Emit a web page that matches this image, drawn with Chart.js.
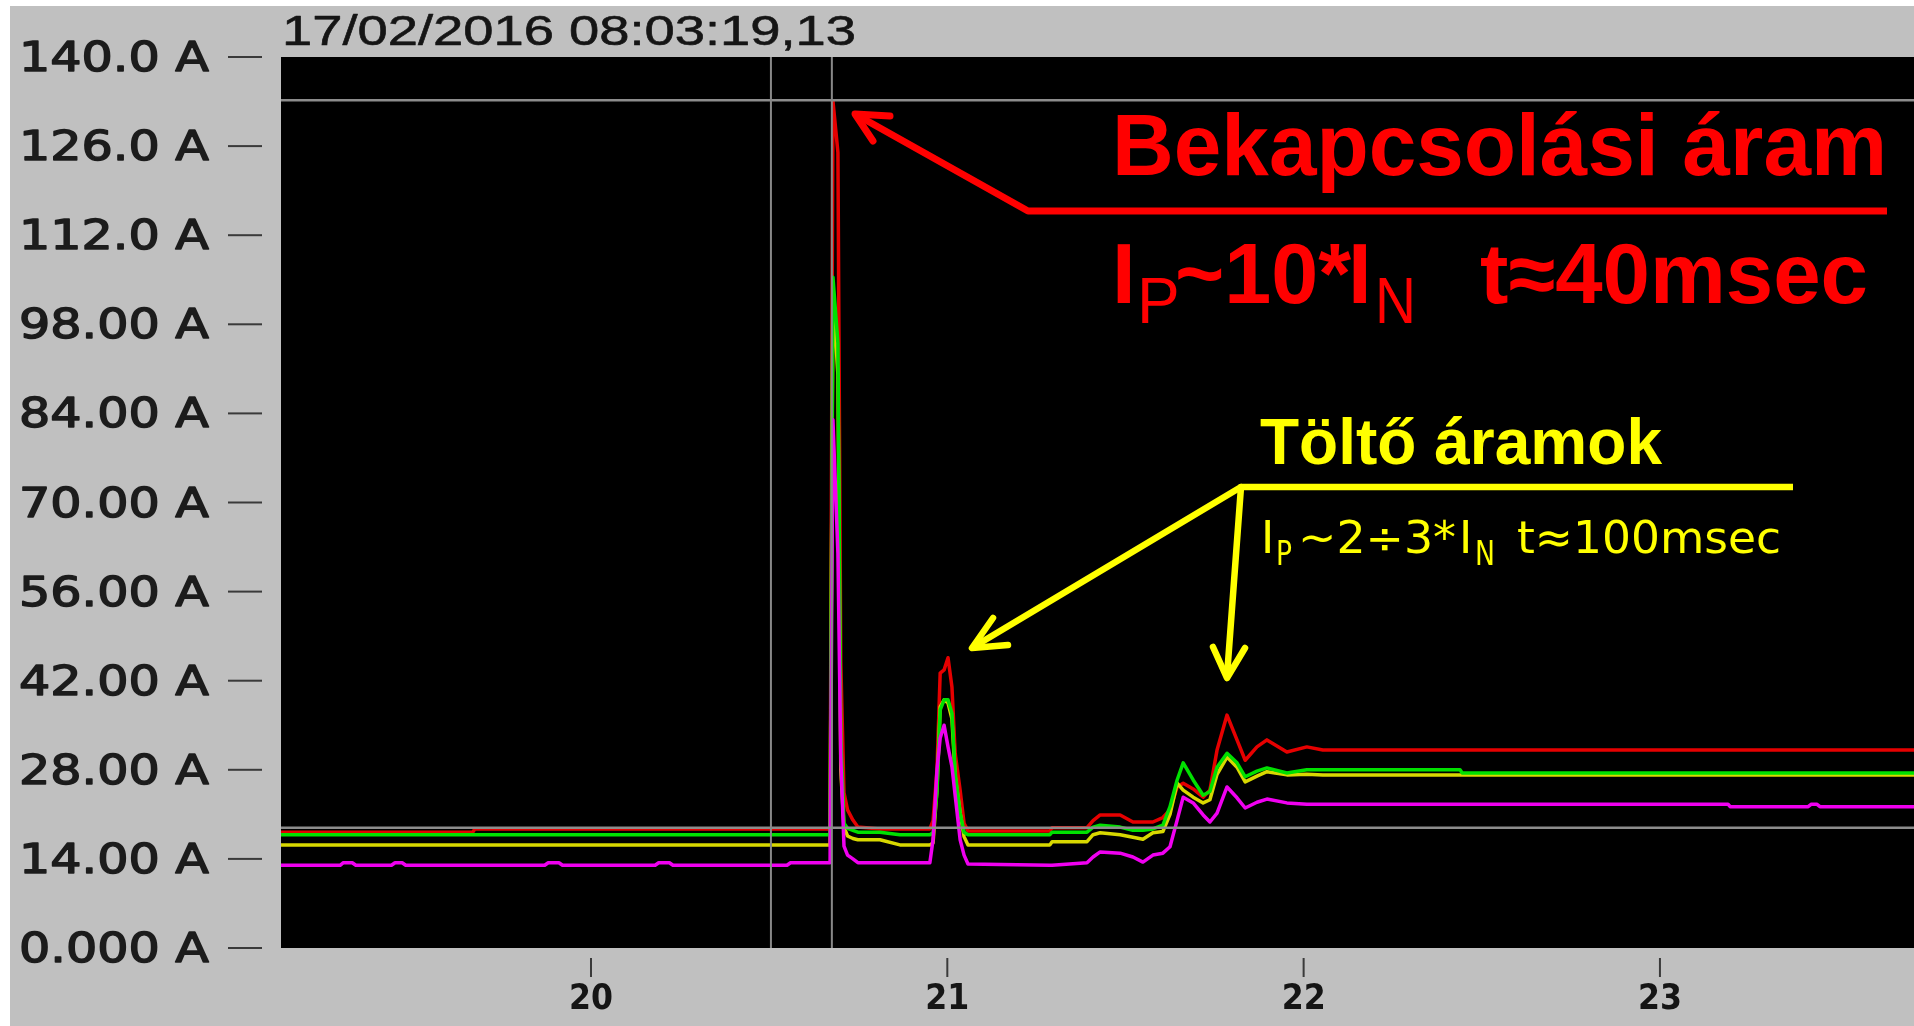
<!DOCTYPE html>
<html lang="hu">
<head>
<meta charset="utf-8">
<title>Bekapcsolási áram</title>
<script src="https://cdn.jsdelivr.net/npm/chart.js@4.4.0/dist/chart.umd.min.js"></script>
<style>
  html, body { margin: 0; padding: 0; background: #ffffff; overflow: hidden; }
  canvas { display: block; }
</style>
</head>
<body>
<canvas id="graficoCorriente" width="1914" height="1026"></canvas>
<script>
const tiempos = [
    19.130, 19.296, 19.305, 19.330, 19.340, 19.440, 19.450, 19.470, 19.480, 19.668,
    19.674, 19.870, 19.880, 19.910, 19.920, 20.180, 20.190, 20.220, 20.230, 20.550,
    20.560, 20.671, 20.679, 20.693, 20.701, 20.710, 20.720, 20.735, 20.749, 20.811,
    20.867, 20.951, 20.960, 20.971, 20.980, 20.991, 21.002, 21.013, 21.022, 21.036,
    21.047, 21.058, 21.288, 21.294, 21.392, 21.409, 21.429, 21.485, 21.521, 21.549,
    21.577, 21.605, 21.625, 21.645, 21.662, 21.690, 21.718, 21.737, 21.757, 21.785,
    21.813, 21.836, 21.869, 21.897, 21.953, 22.009, 22.054, 22.439, 22.445, 23.191,
    23.197, 23.416, 23.425, 23.440, 23.449, 23.713
];
const corrienteRoja = [
    18.2, 18.2, 18.2, 18.2, 18.2, 18.2, 18.2, 18.2, 18.2, 18.2,
    18.7, 18.7, 18.7, 18.7, 18.7, 18.7, 18.7, 18.7, 18.7, 18.7,
    18.7, 18.7, 133.1, 125.0, 45.0, 24.4, 21.7, 20.1, 19.0, 18.7,
    18.7, 18.7, 20.0, 28.0, 43.2, 43.7, 45.6, 41.0, 30.6, 24.8,
    19.6, 18.4, 18.4, 18.9, 18.9, 20.0, 20.9, 20.9, 19.8, 19.8,
    19.8, 20.5, 21.7, 25.3, 25.9, 25.0, 23.7, 24.8, 31.1, 36.6,
    32.7, 29.5, 31.6, 32.7, 30.8, 31.6, 31.1, 31.1, 31.1, 31.1,
    31.1, 31.1, 31.1, 31.1, 31.1, 31.1
];
const corrienteVerde = [
    17.8, 17.8, 17.8, 17.8, 17.8, 17.8, 17.8, 17.8, 17.8, 17.8,
    17.8, 17.8, 17.8, 17.8, 17.8, 17.8, 17.8, 17.8, 17.8, 17.8,
    17.8, 17.8, 105.4, 95.0, 33.0, 19.6, 18.8, 18.5, 18.2, 18.2,
    17.8, 17.8, 18.1, 24.4, 37.4, 39.0, 39.0, 36.9, 27.5, 21.2,
    18.2, 17.8, 17.8, 18.2, 18.2, 19.0, 19.3, 19.0, 18.5, 18.5,
    18.7, 19.3, 22.2, 26.4, 29.1, 26.4, 24.0, 24.6, 28.4, 30.6,
    29.1, 26.9, 27.8, 28.3, 27.5, 28.0, 28.0, 28.0, 27.5, 27.5,
    27.5, 27.5, 27.5, 27.5, 27.5, 27.5
];
const corrienteAmarilla = [
    16.2, 16.2, 16.2, 16.2, 16.2, 16.2, 16.2, 16.2, 16.2, 16.2,
    16.2, 16.2, 16.2, 16.2, 16.2, 16.2, 16.2, 16.2, 16.2, 16.2,
    16.2, 16.2, 103.0, 90.0, 28.0, 19.0, 17.6, 17.2, 17.0, 17.0,
    16.2, 16.2, 16.5, 25.0, 37.9, 39.0, 38.5, 36.0, 27.0, 21.2,
    17.5, 16.2, 16.2, 16.7, 16.7, 17.8, 18.1, 17.8, 17.4, 17.1,
    18.1, 18.3, 21.0, 25.9, 24.8, 23.7, 22.8, 23.3, 27.3, 30.0,
    28.4, 26.1, 27.0, 27.7, 27.2, 27.3, 27.2, 27.2, 27.2, 27.2,
    27.2, 27.2, 27.2, 27.2, 27.2, 27.2
];
const corrienteMagenta = [
    13.0, 13.0, 13.4, 13.4, 13.0, 13.0, 13.4, 13.4, 13.0, 13.0,
    13.0, 13.0, 13.4, 13.4, 13.0, 13.0, 13.4, 13.4, 13.0, 13.0,
    13.4, 13.4, 83.0, 62.0, 30.0, 16.0, 14.6, 14.0, 13.4, 13.4,
    13.4, 13.4, 17.0, 28.0, 33.0, 35.0, 31.6, 28.5, 24.0, 17.0,
    14.6, 13.2, 13.0, 13.0, 13.4, 14.3, 15.1, 14.9, 14.3, 13.5,
    14.6, 14.9, 15.9, 20.1, 23.7, 22.8, 20.9, 19.8, 21.2, 25.3,
    23.6, 22.0, 22.9, 23.4, 22.8, 22.6, 22.6, 22.6, 22.6, 22.6,
    22.2, 22.2, 22.6, 22.6, 22.2, 22.2
];

// Cursores del registrador (líneas grises)
const cursoresTiempo = [20.505, 20.676];
const cursoresCorriente = [18.9, 133.2];

// Ejes
const rangoTiempo = [19.13, 23.713];
const valoresY = [0, 14, 28, 42, 56, 70, 84, 98, 112, 126, 140];
const etiquetasY = ['0.000 A', '14.00 A', '28.00 A', '42.00 A', '56.00 A', '70.00 A',
    '84.00 A', '98.00 A', '112.0 A', '126.0 A', '140.0 A'];
const valoresX = [20, 21, 22, 23];
const etiquetasX = ['20', '21', '22', '23'];
const fechaMedicion = '17/02/2016 08:03:19,13';

// Construir puntos {x, y}
function serie(valores) {
    return tiempos.map((t, i) => ({ x: t, y: valores[i] }));
}

// Texto estirado horizontalmente hasta un ancho dado (con contorno opcional)
function textoAjustado(ctx, texto, x, y, ancho, fuente, color, contorno) {
    ctx.save();
    ctx.font = fuente;
    ctx.fillStyle = color;
    ctx.textAlign = 'left';
    ctx.textBaseline = 'alphabetic';
    const natural = ctx.measureText(texto).width;
    ctx.translate(x, y);
    ctx.scale(ancho ? ancho / natural : 1, 1);
    ctx.fillText(texto, 0, 0);
    if (contorno) {
        ctx.strokeStyle = color;
        ctx.lineWidth = contorno;
        ctx.lineJoin = 'round';
        ctx.strokeText(texto, 0, 0);
    }
    ctx.restore();
}

function trazo(ctx, puntos, color, grosor, extremo) {
    ctx.save();
    ctx.strokeStyle = color;
    ctx.lineWidth = grosor;
    ctx.lineCap = extremo || 'round';
    ctx.lineJoin = 'round';
    ctx.beginPath();
    ctx.moveTo(puntos[0][0], puntos[0][1]);
    for (let i = 1; i < puntos.length; i++) {
        ctx.lineTo(puntos[i][0], puntos[i][1]);
    }
    ctx.stroke();
    ctx.restore();
}

// Fondo gris, área negra, ejes y anotaciones
const pluginRegistrador = {
    id: 'registrador',
    beforeDraw(chart) {
        const ctx = chart.ctx;
        const area = chart.chartArea;
        ctx.save();
        ctx.fillStyle = '#ffffff';
        ctx.fillRect(0, 0, chart.width, chart.height);
        ctx.fillStyle = '#c0c0c0';
        ctx.fillRect(10, 6, chart.width - 10, chart.height - 6);
        ctx.fillStyle = '#000000';
        ctx.fillRect(area.left, area.top, area.right - area.left, area.bottom - area.top);
        ctx.restore();
    },
    afterDraw(chart) {
        const ctx = chart.ctx;
        const area = chart.chartArea;
        const escalaX = chart.scales.x;
        const escalaY = chart.scales.y;

        // Etiquetas y marcas del eje Y
        valoresY.forEach((v, i) => {
            const y = escalaY.getPixelForValue(v);
            ctx.fillStyle = '#3a3a3a';
            ctx.fillRect(228, y - 1, 34, 2);
            textoAjustado(ctx, etiquetasY[i], 19, y + 14, 190, '40px "DejaVu Sans"', '#1c1c1c', 1.4);
        });

        // Etiquetas y marcas del eje X
        valoresX.forEach((v, i) => {
            const x = escalaX.getPixelForValue(v);
            ctx.fillStyle = '#3a3a3a';
            ctx.fillRect(x - 1, area.bottom + 10, 2, 19);
            textoAjustado(ctx, etiquetasX[i], x - 22, area.bottom + 61, 44, 'bold 35px "DejaVu Sans"', '#151515');
        });

        // Fecha de la medición
        textoAjustado(ctx, fechaMedicion, 282, 45, 574, '43px "Liberation Sans"', '#151515', 0.6);

        // Anotación roja: corriente de conexión
        const rojo = '#ff0000';
        trazo(ctx, [[1887, 211], [1028, 211], [855, 114]], rojo, 7, 'butt');
        trazo(ctx, [[890, 116], [855, 114], [873, 141]], rojo, 7);
        textoAjustado(ctx, 'Bekapcsolási áram', 1112, 175, 775, 'bold 87px "Liberation Sans"', rojo);
        textoAjustado(ctx, 'I', 1112, 303, 0, 'bold 85px "Liberation Sans"', rojo);
        textoAjustado(ctx, 'P', 1137, 323, 0, '64px "Liberation Sans"', rojo);
        textoAjustado(ctx, '~10*', 1175, 303, 176, 'bold 85px "Liberation Sans"', rojo);
        textoAjustado(ctx, 'I', 1348, 303, 0, 'bold 85px "Liberation Sans"', rojo);
        textoAjustado(ctx, 'N', 1375, 323, 41, '64px "Liberation Sans"', rojo);
        textoAjustado(ctx, 't≈40msec', 1480, 303, 388, 'bold 85px "Liberation Sans"', rojo);

        // Anotación amarilla: corrientes de carga
        const amarillo = '#ffff00';
        trazo(ctx, [[1793, 487], [1241, 487], [975, 646]], amarillo, 6.5, 'butt');
        trazo(ctx, [[993, 618], [972, 648], [1008, 645]], amarillo, 6.5);
        trazo(ctx, [[1241, 487], [1227, 676]], amarillo, 6.5);
        trazo(ctx, [[1213, 647], [1227, 678], [1245, 648]], amarillo, 6.5);
        textoAjustado(ctx, 'Töltő áramok', 1260, 464, 402, 'bold 64px "Liberation Sans"', amarillo);
        textoAjustado(ctx, 'I', 1261, 553, 0, '45px "DejaVu Sans"', amarillo);
        textoAjustado(ctx, 'P', 1276, 565, 16, '34px "DejaVu Sans"', amarillo);
        textoAjustado(ctx, '~2÷3*', 1298, 553, 158, '45px "DejaVu Sans"', amarillo);
        textoAjustado(ctx, 'I', 1459, 553, 0, '45px "DejaVu Sans"', amarillo);
        textoAjustado(ctx, 'N', 1475, 565, 20, '34px "DejaVu Sans"', amarillo);
        textoAjustado(ctx, 't≈100msec', 1517, 553, 264, '45px "DejaVu Sans"', amarillo);
    }
};

// Líneas de cursor construidas desde sus valores
const datasetsCursor = [
    ...cursoresTiempo.map(t => ({
        data: [{ x: t, y: 0 }, { x: t, y: 140 }],
        borderColor: '#888888', borderWidth: 2
    })),
    ...cursoresCorriente.map(a => ({
        data: [{ x: rangoTiempo[0], y: a }, { x: rangoTiempo[1], y: a }],
        borderColor: '#8c8c8c', borderWidth: 2.5
    }))
];

const ctx = document.getElementById('graficoCorriente').getContext('2d');
new Chart(ctx, {
    type: 'line',
    data: {
        datasets: [
            ...datasetsCursor,
            { label: 'L3', data: serie(corrienteMagenta), borderColor: '#f000f0', borderWidth: 3.5 },
            { label: 'L2', data: serie(corrienteVerde), borderColor: '#00e000', borderWidth: 3.5 },
            { label: 'L1', data: serie(corrienteAmarilla), borderColor: '#d8d800', borderWidth: 3.5 },
            { label: 'N', data: serie(corrienteRoja), borderColor: '#e60000', borderWidth: 3.5 }
        ]
    },
    options: {
        responsive: false,
        animation: false,
        devicePixelRatio: 1,
        events: [],
        layout: { padding: { left: 281, top: 57, right: 0, bottom: 78 } },
        elements: {
            point: { radius: 0 },
            line: { tension: 0, fill: false, borderJoinStyle: 'round' }
        },
        plugins: {
            legend: { display: false },
            tooltip: { enabled: false }
        },
        scales: {
            x: { type: 'linear', min: rangoTiempo[0], max: rangoTiempo[1], display: false },
            y: { type: 'linear', min: 0, max: 140, display: false }
        }
    },
    plugins: [pluginRegistrador]
});
</script>
</body>
</html>
